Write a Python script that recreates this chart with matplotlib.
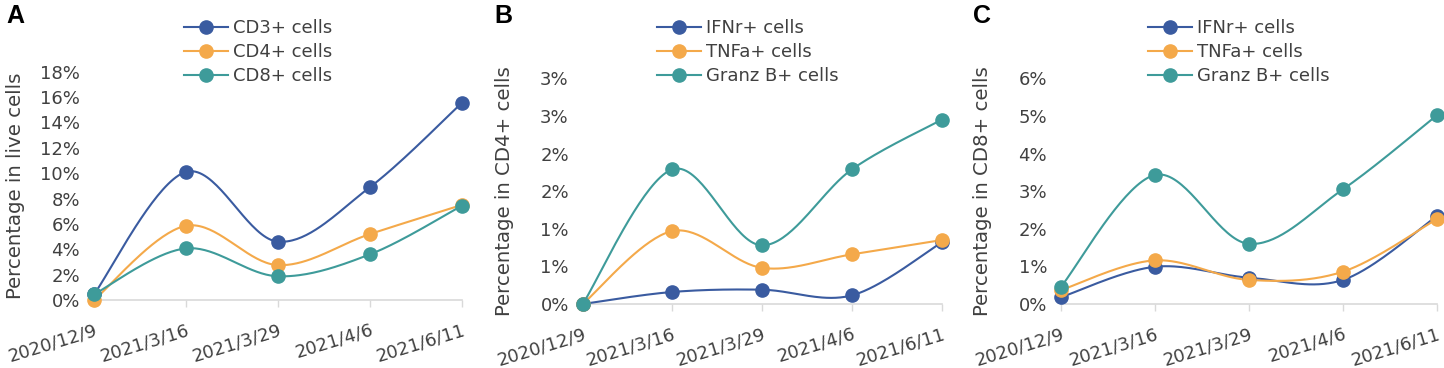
import matplotlib
matplotlib.use('Agg')
import matplotlib.pyplot as plt
import numpy as np

plt.rcParams['font.family'] = ['DejaVu Sans']

dates = ['2020/12/9', '2021/3/16', '2021/3/29', '2021/4/6', '2021/6/11']

# Panel A - percentage in live cells
cd3 = [0.45, 10.1, 4.6, 8.9, 15.55]
cd4 = [0.0, 5.85, 2.75, 5.2, 7.5]
cd8 = [0.45, 4.07, 1.87, 3.6, 7.44]

# Panel B - percentage in CD4+ cells
b_ifn = [0.0, 0.16, 0.19, 0.115, 0.82]
b_tnf = [0.0, 0.97, 0.48, 0.66, 0.85]
b_gzb = [0.0, 1.79, 0.78, 1.79, 2.45]

# Panel C - percentage in CD8+ cells
c_ifn = [0.18, 0.99, 0.70, 0.64, 2.34]
c_tnf = [0.37, 1.16, 0.64, 0.86, 2.26]
c_gzb = [0.46, 3.43, 1.60, 3.05, 5.02]

a_ticks = [0, 2, 4, 6, 8, 10, 12, 14, 16, 18]
a_labels = ['0%', '2%', '4%', '6%', '8%', '10%', '12%', '14%', '16%', '18%']
b_ticks = [0, 0.5, 1.0, 1.5, 2.0, 2.5, 3.0]
b_labels = ['0%', '1%', '1%', '2%', '2%', '3%', '3%']
c_ticks = [0, 1, 2, 3, 4, 5, 6]
c_labels = ['0%', '1%', '2%', '3%', '4%', '5%', '6%']

BLUE = '#3A5BA0'
ORANGE = '#F4A94A'
TEAL = '#3E9B9A'
TXT = '#404040'

W, H = 1444, 368


def smooth(y, n=40):
    """Excel-like smoothed line (Catmull-Rom through the points)."""
    x = np.arange(len(y), dtype=float)
    y = np.asarray(y, dtype=float)
    xp = np.concatenate([[x[0]], x, [x[-1]]])
    yp = np.concatenate([[y[0]], y, [y[-1]]])
    xs, ys = [], []
    t = np.linspace(0, 1, n)
    for i in range(len(y) - 1):
        p0x, p1x, p2x, p3x = xp[i], xp[i + 1], xp[i + 2], xp[i + 3]
        p0y, p1y, p2y, p3y = yp[i], yp[i + 1], yp[i + 2], yp[i + 3]
        c1x, c1y = p1x + (p2x - p0x) / 6, p1y + (p2y - p0y) / 6
        c2x, c2y = p2x - (p3x - p1x) / 6, p2y - (p3y - p1y) / 6
        bx = (1-t)**3*p1x + 3*(1-t)**2*t*c1x + 3*(1-t)*t**2*c2x + t**3*p2x
        by = (1-t)**3*p1y + 3*(1-t)**2*t*c1y + 3*(1-t)*t**2*c2y + t**3*p2y
        xs.append(bx)
        ys.append(by)
    return np.concatenate(xs), np.concatenate(ys)


def panel(box, series, names, ticks, labels, ylabel, ylabel_x, letter, letter_x, leg_x):
    left, right, top, bottom = box
    ax = fig.add_axes([left / W, 1 - bottom / H, (right - left) / W, (bottom - top) / H])
    x = np.arange(len(dates))
    for y, name, c in zip(series, names, [BLUE, ORANGE, TEAL]):
        sx, sy = smooth(y)
        ax.plot(sx, sy, color=c, lw=1.5, clip_on=False, zorder=3)
        ax.plot(x, y, 'o', color=c, ms=9.5, clip_on=False, zorder=4)
        ax.plot([], [], '-o', color=c, lw=1.5, ms=9.5, label=name)
    ax.set_xlim(0, len(dates) - 1)
    ax.set_ylim(ticks[0], ticks[-1])
    ax.set_yticks(ticks)
    ax.set_yticklabels(labels)
    ax.set_xticks(x)
    ax.set_xticklabels(dates, rotation=17, ha='right', rotation_mode='anchor')
    for s in ['top', 'right', 'left']:
        ax.spines[s].set_visible(False)
    ax.spines['bottom'].set_color('#D9D9D9')
    ax.spines['bottom'].set_linewidth(1.2)
    ax.tick_params(axis='y', length=0, pad=10, labelsize=13, labelcolor=TXT)
    ax.tick_params(axis='x', length=5, width=1, color='#D9D9D9', pad=10,
                   labelsize=13, labelcolor=TXT)
    ax.set_facecolor('none')
    fig.text(ylabel_x / W, 1 - (top + bottom) / 2 / H, ylabel, rotation=90,
             ha='center', va='center', fontsize=14.2, color=TXT)
    fig.text(letter_x / W, 1 - 16 / H, letter, fontsize=18, fontweight='bold',
             family='Liberation Sans', ha='left', va='center', color='black')
    ax.legend(loc='upper left', bbox_to_anchor=(leg_x / W, 1 - 19 / H),
              bbox_transform=fig.transFigure, frameon=False, fontsize=13,
              labelcolor=TXT, handlelength=2.44, handletextpad=0.28,
              borderpad=0, borderaxespad=0, labelspacing=0.34)
    return ax


fig = plt.figure(figsize=(W / 100, H / 100), dpi=100)

panel((94, 462, 71.7, 300), [cd3, cd4, cd8],
      ['CD3+ cells', 'CD4+ cells', 'CD8+ cells'],
      a_ticks, a_labels, 'Percentage in live cells', 16, 'A', 6, 184)
panel((582.7, 941.7, 78.3, 304), [b_ifn, b_tnf, b_gzb],
      ['IFNr+ cells', 'TNFa+ cells', 'Granz B+ cells'],
      b_ticks, b_labels, 'Percentage in CD4+ cells', 505, 'B', 494, 656.7)
panel((1061, 1437, 78.3, 304), [c_ifn, c_tnf, c_gzb],
      ['IFNr+ cells', 'TNFa+ cells', 'Granz B+ cells'],
      c_ticks, c_labels, 'Percentage in CD8+ cells', 982.7, 'C', 973, 1147.7)

fig.savefig('out.png', dpi=100)
